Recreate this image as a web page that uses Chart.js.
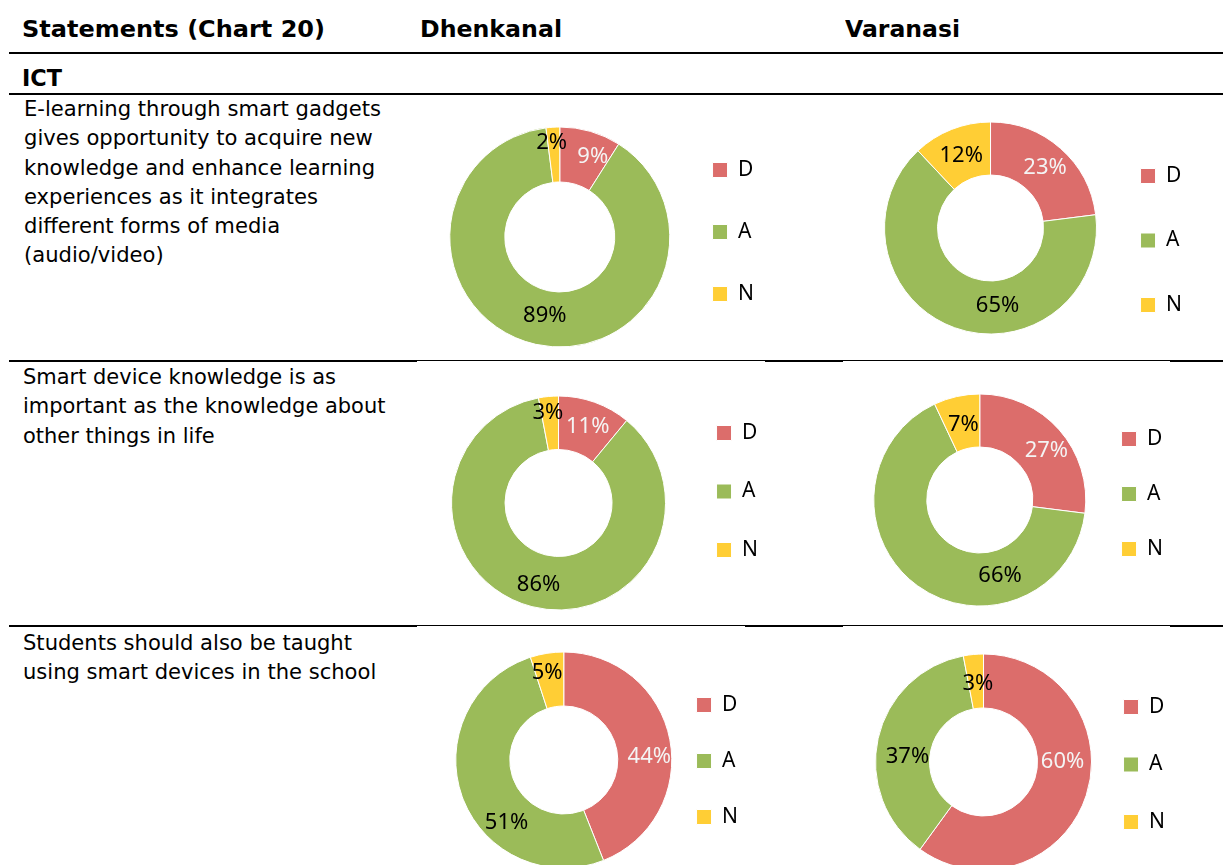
<!DOCTYPE html>
<html>
<head>
<meta charset="utf-8">
<script src="https://cdn.jsdelivr.net/npm/chart.js@4.4.0/dist/chart.umd.min.js"></script>
<style>
  html, body { margin: 0; padding: 0; background: #ffffff; }
  body { width: 1223px; height: 865px; overflow: hidden; position: relative;
         font-family: "DejaVu Sans", Verdana, sans-serif; color: #000; }
  .tx { position: absolute; white-space: nowrap; transform-origin: 0 0; }
  .tx span { display: inline-block; }
  .hd { font-weight: bold; font-size: 23px; line-height: 28px; }
  .bd { font-size: 21px; line-height: 29.3px; }
  .ln { position: absolute; background: #000; }
  .cw { position: absolute; }
</style>
</head>
<body>

<div class="tx hd" style="left:22px;top:15px" data-w="303"><div><span>Statements (Chart 20)</span></div></div>
<div class="tx hd" style="left:420px;top:15px" data-w="142"><div><span>Dhenkanal</span></div></div>
<div class="tx hd" style="left:845px;top:15px" data-w="115"><div><span>Varanasi</span></div></div>
<div class="tx hd" style="left:22px;top:64px" data-w="40"><div><span>ICT</span></div></div>

<div class="tx bd" style="left:24px;top:95px" data-w="357">
  <div><span>E-learning through smart gadgets</span></div>
  <div><span>gives opportunity to acquire new</span></div>
  <div><span>knowledge and enhance learning</span></div>
  <div><span>experiences as it integrates</span></div>
  <div><span>different forms of media</span></div>
  <div><span>(audio/video)</span></div>
</div>
<div class="tx bd" style="left:23px;top:363px" data-w="313">
  <div><span>Smart device knowledge is as</span></div>
  <div><span>important as the knowledge about</span></div>
  <div><span>other things in life</span></div>
</div>
<div class="tx bd" style="left:23px;top:629px" data-w="329">
  <div><span>Students should also be taught</span></div>
  <div><span>using smart devices in the school</span></div>
</div>

<div class="ln" style="left:9px;top:52px;width:1214px;height:2px"></div>
<div class="ln" style="left:9px;top:93px;width:1214px;height:2px"></div>

<div class="ln" style="left:9px;top:360px;width:408px;height:2px"></div>
<div class="ln" style="left:417px;top:360px;width:348px;height:1px"></div>
<div class="ln" style="left:765px;top:360px;width:78px;height:2px"></div>
<div class="ln" style="left:843px;top:360px;width:327px;height:1px"></div>
<div class="ln" style="left:1170px;top:360px;width:53px;height:2px"></div>

<div class="ln" style="left:9px;top:625px;width:408px;height:2px"></div>
<div class="ln" style="left:417px;top:625px;width:328px;height:1px"></div>
<div class="ln" style="left:745px;top:625px;width:98px;height:2px"></div>
<div class="ln" style="left:843px;top:625px;width:327px;height:1px"></div>
<div class="ln" style="left:1170px;top:625px;width:53px;height:2px"></div>

<script>
// ---- data ----
const categories = ['D', 'A', 'N'];
const districts = ['Dhenkanal', 'Varanasi'];
const dhenkanal1 = [9, 89, 2];
const varanasi1 = [23, 65, 12];
const dhenkanal2 = [11, 86, 3];
const varanasi2 = [27, 66, 7];
const dhenkanal3 = [44, 51, 5];
const varanasi3 = [60, 37, 3];

// ---- styles ----
const sliceColors = ['#DC6D6B', '#9BBB59', '#FFCE35'];
const labelColors = ['#F4F4F4', '#000000', '#000000'];
const legendFontSize = 21;
const legendFamily = '"Noto Sans", "Open Sans", sans-serif';
const labelFont = '22px "Noto Sans", "Open Sans", sans-serif';
const boxSize = 15;

// ---- layout: where each chart sits, plus label nudges (px) ----
const placements = [
  { data: dhenkanal1, cx: 560, cy: 237, r: 110, bx: 713,  yD: 170, L: 62,
    nudge: [[10, -1], [3, -2], [-3, -12]] },
  { data: varanasi1,  cx: 990, cy: 228, r: 106, bx: 1140, yD: 176, L: 64.5,
    nudge: [[2, -1], [34, 3], [0, 2]] },
  { data: dhenkanal2, cx: 558, cy: 503, r: 107, bx: 716,  yD: 433, L: 58.5,
    nudge: [[2, -1], [0, 4], [-3, -10]] },
  { data: varanasi2,  cx: 980, cy: 500, r: 106, bx: 1122, yD: 439, L: 55,
    nudge: [[7, 3], [67, 11], [1, 2]] },
  { data: dhenkanal3, cx: 564, cy: 760, r: 108, bx: 697,  yD: 705, L: 56,
    nudge: [[6, 12], [19, 35], [-4, -7]] },
  { data: varanasi3,  cx: 983, cy: 762, r: 108, bx: 1123, yD: 707, L: 57.5,
    nudge: [[2, -25], [3, 12], [2, 2]] }
];

// fit text widths
document.querySelectorAll('.tx').forEach(el => {
  const target = parseFloat(el.dataset.w);
  const first = el.querySelector('span');
  const w = first.getBoundingClientRect().width;
  if (w > 0) el.style.transform = 'scaleX(' + (target / w) + ')';
});

// data labels plugin
const sliceLabels = {
  id: 'sliceLabels',
  afterDatasetsDraw(chart, args, opts) {
    const ctx = chart.ctx;
    const meta = chart.getDatasetMeta(0);
    const values = chart.data.datasets[0].data;
    const nudge = opts.nudge || [];
    meta.data.forEach((arc, i) => {
      const p = arc.tooltipPosition();
      const n = nudge[i] || [0, 0];
      ctx.save();
      ctx.font = labelFont;
      ctx.fillStyle = labelColors[i];
      ctx.textAlign = 'center';
      ctx.textBaseline = 'middle';
      ctx.fillText(values[i] + '%', p.x + n[0], p.y + n[1]);
      ctx.restore();
    });
  }
};

// measure legend item width like Chart.js does
const mctx = document.createElement('canvas').getContext('2d');
mctx.font = legendFontSize + 'px ' + legendFamily;
const maxText = Math.max(...categories.map(c => mctx.measureText(c).width));
const itemW = boxSize + legendFontSize / 2 + maxText;

placements.forEach(pl => {
  const fs = legendFontSize;
  const p = pl.L - fs;                      // legend label padding
  let H = Math.ceil(2 * (pl.r + 6));
  let T, titleH;
  for (let k = 0; k < 400; k++) {
    T = pl.cy - H / 2;
    titleH = pl.yD - fs / 2 - p - T;
    const fitsWrap = (2 * pl.L + fs + 2 * p) <= (H - titleH) - 1;
    if (titleH >= 1 && fitsWrap) break;
    H += 2;
  }
  const baseLeft = 2 * pl.cx - pl.bx + p;     // chart-area left edge on page
  const padL = Math.max(0, Math.ceil(pl.r + 8 - (pl.cx - baseLeft)));
  const left = baseLeft - padL;
  const W = Math.round(pl.bx - baseLeft + itemW + 10) + padL;

  const wrap = document.createElement('div');
  wrap.className = 'cw';
  wrap.style.left = left + 'px';
  wrap.style.top = T + 'px';
  const cv = document.createElement('canvas');
  cv.width = W; cv.height = H;
  cv.style.width = W + 'px'; cv.style.height = H + 'px';
  wrap.appendChild(cv);
  document.body.appendChild(wrap);

  new Chart(cv, {
    type: 'doughnut',
    data: {
      labels: categories,
      datasets: [{
        data: pl.data,
        backgroundColor: sliceColors,
        borderColor: '#ffffff',
        borderWidth: 1,
        clip: false
      }]
    },
    options: {
      responsive: false,
      animation: false,
      events: [],
      radius: pl.r,
      cutout: '50%',
      layout: { padding: { left: padL, right: 0, top: 0, bottom: 0 } },
      plugins: {
        tooltip: { enabled: false },
        sliceLabels: { nudge: pl.nudge },
        legend: {
          position: 'right',
          align: 'start',
          labels: {
            boxWidth: boxSize,
            boxHeight: boxSize,
            padding: p,
            color: '#000000',
            font: { size: fs, family: legendFamily }
          },
          title: {
            display: true,
            text: '',
            padding: { top: Math.max(titleH - 1, 0), bottom: 0, left: 0, right: 0 },
            font: { size: 1, lineHeight: 1 }
          }
        }
      }
    },
    plugins: [sliceLabels]
  });
});
</script>
</body>
</html>
